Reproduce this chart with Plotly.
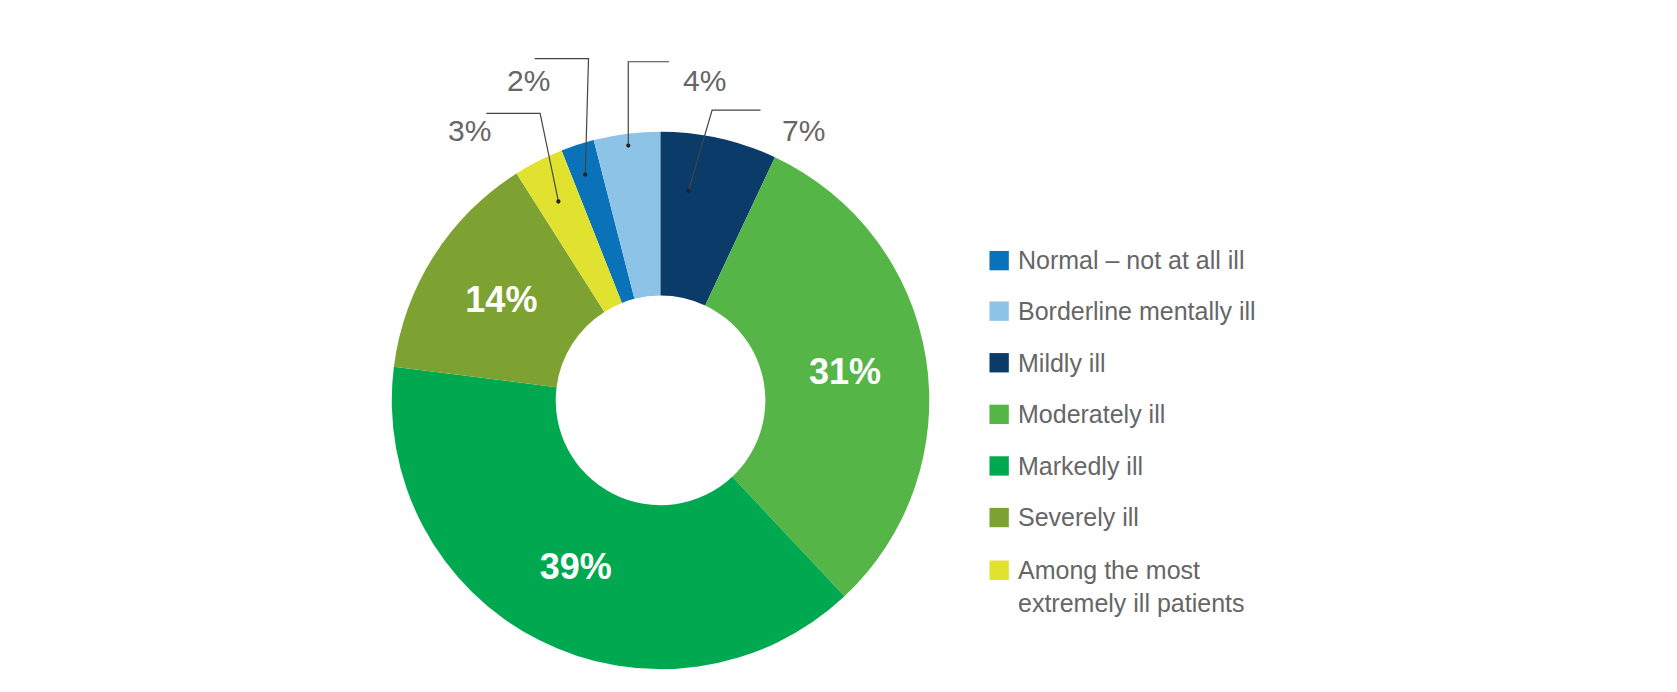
import plotly.graph_objects as go

W, H = 1677, 692
S = 1677 / 1560  # reference read at display scale
labels = ["Normal – not at all ill", "Borderline mentally ill", "Mildly ill", "Moderately ill",
          "Markedly ill", "Severely ill", "Among the most<br>extremely ill patients"]
values = [2, 4, 7, 31, 39, 14, 3]
colors = ["#0a72b8", "#8ec3e8", "#0b3c69", "#56b547", "#00a94f", "#7ea232", "#e1e12f"]
inside_text = ["", "", "", "<b>31%</b>", "<b>39%</b>", "<b>14%</b>", ""]

def px(x): return x * S / W
def py(y): return 1 - y * S / H

fig = go.Figure(go.Pie(
    labels=labels, values=values, sort=False, direction="clockwise",
    rotation=-21.6, hole=0.39,
    marker=dict(colors=colors, line=dict(width=0)),
    text=inside_text, texttemplate="%{text}", textinfo="text", textposition="inside",
    insidetextorientation="horizontal",
    textfont=dict(family="Liberation Sans, Arial", size=36, color="white"),
    domain=dict(x=[px(357), px(857)], y=[py(615), py(115)]),
    showlegend=False, hoverinfo="label+percent",
))

shapes, annotations = [], []
gray = "#666666"
leaders = [
    ([(633, 170), (655, 95), (700, 95)], (740, 97), "7%"),
    ([(577, 128), (577, 50), (615, 50)], (648, 50), "4%"),
    ([(537, 155), (540, 47), (490, 47)], (462, 50), "2%"),
    ([(512, 180), (495, 98), (445, 98)], (407, 97), "3%"),
]
for pts, (tx, ty), t in leaders:
    path = "M " + " L ".join(f"{px(x)},{py(y)}" for x, y in pts)
    shapes.append(dict(type="path", path=path, xref="paper", yref="paper",
                       line=dict(color="#444", width=1.2)))
    x0, y0 = pts[0]
    shapes.append(dict(type="circle", xref="paper", yref="paper",
                       x0=px(x0 - 2), x1=px(x0 + 2), y0=py(y0 + 2), y1=py(y0 - 2),
                       fillcolor="#222", line=dict(width=0)))
    annotations.append(dict(x=px(tx), y=py(ty), xref="paper", yref="paper", text=t,
                            showarrow=False, font=dict(family="Liberation Sans, Arial", size=30, color=gray)))

rows = [235, 282, 330, 378, 426, 474, 523]
for lab, c, y in zip(labels, colors, rows):
    shapes.append(dict(type="rect", xref="paper", yref="paper",
                       x0=px(913), x1=px(931), y0=py(y + 9), y1=py(y - 9),
                       fillcolor=c, line=dict(width=0)))
    annotations.append(dict(x=px(938), y=py(y - 15), xref="paper", yref="paper", text=lab,
                            showarrow=False, xanchor="left", yanchor="top", align="left",
                            font=dict(family="Liberation Sans, Arial", size=25, color=gray)))

fig.update_layout(width=W, height=H, margin=dict(l=0, r=0, t=0, b=0),
                  paper_bgcolor="white", plot_bgcolor="white",
                  shapes=shapes, annotations=annotations)
fig.write_html("out.html")
